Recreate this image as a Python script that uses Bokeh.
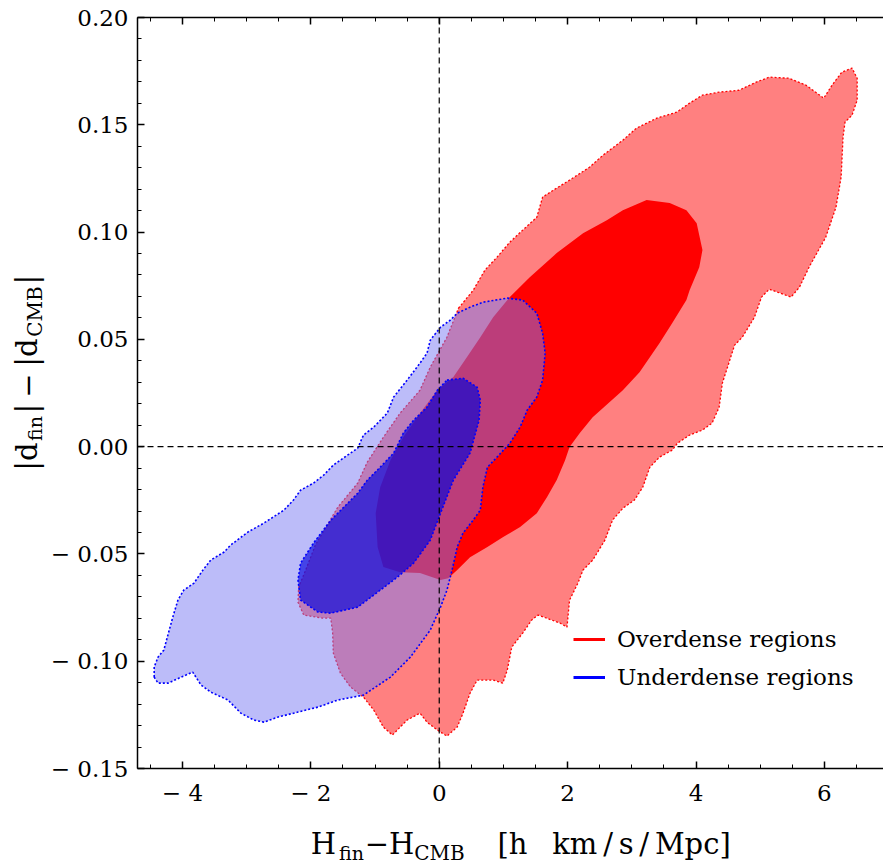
from math import pi
from bokeh.plotting import figure
from bokeh.layouts import column, row
from bokeh.models import (Range1d, FixedTicker, LinearAxis, Span, Label, Legend,
                          LegendItem, CustomJSTickFormatter)
from bokeh.embed import file_html
from bokeh.resources import INLINE

# ---------------- data ----------------
over_outer_x = [0.30, 0.53, 0.71, 0.90, 1.10, 1.30, 1.52, 1.61, 1.83, 2.03, 2.34, 2.55, 2.86, 3.07,
                3.39, 3.70, 3.90, 4.10, 4.36, 4.67, 4.94, 5.14, 5.45, 5.71, 5.99, 6.12, 6.27, 6.43,
                6.51, 6.51, 6.43, 6.32, 6.29, 6.26, 6.18, 6.02, 5.76, 5.61, 5.48, 5.14, 5.02, 4.91,
                4.72, 4.60, 4.49, 4.41, 4.36, 4.25, 4.10, 3.90, 3.71, 3.63, 3.43, 3.28, 3.17, 3.04,
                2.86, 2.70, 2.58, 2.39, 2.24, 2.16, 2.03, 1.99, 1.88, 1.54, 1.44, 1.30, 1.13, 1.06,
                0.99, 0.84, 0.59, 0.48, 0.37, 0.28, 0.12, -0.03, -0.19, -0.30, -0.50, -0.73, -0.87,
                -1.02, -1.18, -1.38, -1.54, -1.65, -1.66, -1.69, -1.82, -2.11, -2.20, -2.19, -2.08,
                -1.93, -1.58, -1.27, -1.12, -0.87, -0.61, -0.30, -0.14, 0.12]
over_outer_y = [0.0645, 0.0729, 0.0822, 0.0883, 0.0953, 0.1009, 0.1069, 0.1163, 0.1205, 0.1242,
                0.1302, 0.1358, 0.1428, 0.1484, 0.1531, 0.1559, 0.1601, 0.1638, 0.1652, 0.1661,
                0.1699, 0.1722, 0.1717, 0.1685, 0.1624, 0.1685, 0.1745, 0.1764, 0.1717, 0.1615,
                0.1545, 0.1512, 0.1442, 0.1256, 0.1116, 0.0976, 0.0836, 0.0743, 0.0697, 0.0734,
                0.0697, 0.0603, 0.0510, 0.0473, 0.0370, 0.0296, 0.0184, 0.0110, 0.0077, 0.0054,
                0.0016, -0.0016, -0.0049, -0.0096, -0.0189, -0.0249, -0.0287, -0.0342, -0.0436,
                -0.0529, -0.0575, -0.0636, -0.0715, -0.0841, -0.0822, -0.0785, -0.0808, -0.0869,
                -0.0934, -0.1041, -0.1102, -0.1088, -0.1088, -0.1149, -0.1242, -0.1307, -0.1349,
                -0.1321, -0.1284, -0.1242, -0.1274, -0.1344, -0.1307, -0.1228, -0.1167, -0.1121,
                -0.1055, -0.0962, -0.0869, -0.0799, -0.0799, -0.0785, -0.0725, -0.0655, -0.0575,
                -0.0459, -0.0282, -0.0170, -0.0072, 0.0044, 0.0156, 0.0263, 0.0370, 0.0510]

over_inner_x = [3.23, 3.59, 3.85, 4.01, 4.10, 4.05, 3.90, 3.85, 3.63, 3.43, 3.12, 2.86, 2.39, 2.19,
                2.03, 1.96, 1.83, 1.68, 1.52, 1.26, 0.99, 0.75, 0.48, 0.28, 0.14, 0.02, -0.30,
                -0.61, -0.87, -0.96, -0.99, -0.92, -0.76, -0.56, -0.30, -0.03, 0.22, 0.43, 0.64,
                0.84, 1.10, 1.41, 1.83, 2.24, 2.61, 2.86]
over_inner_y = [0.1149, 0.1135, 0.1102, 0.1041, 0.0916, 0.0836, 0.0729, 0.0683, 0.0576, 0.0482,
                0.0347, 0.0263, 0.0137, 0.0063, -0.0002, -0.0063, -0.0156, -0.0235, -0.0310,
                -0.0375, -0.0422, -0.0468, -0.0515, -0.0575, -0.0613, -0.0622, -0.0589, -0.0585,
                -0.0561, -0.0468, -0.0310, -0.0189, -0.0063, 0.0044, 0.0156, 0.0263, 0.0324,
                0.0417, 0.0510, 0.0603, 0.0697, 0.0790, 0.0902, 0.0995, 0.1055, 0.1102]

under_outer_x = [-4.44, -4.44, -4.38, -4.29, -4.15, -4.07, -3.98, -3.82, -3.68, -3.56, -3.35, -3.25,
                 -2.98, -2.73, -2.42, -2.27, -2.16, -1.96, -1.80, -1.65, -1.43, -1.27, -1.18, -1.02,
                 -0.81, -0.71, -0.50, -0.30, -0.19, -0.14, 0.02, 0.17, 0.28, 0.48, 0.68, 1.06, 1.30,
                 1.52, 1.61, 1.65, 1.61, 1.52, 1.37, 1.26, 1.10, 0.90, 0.75, 0.68, 0.64, 0.53, 0.37,
                 0.28, 0.20, 0.12, 0.02, -0.14, -0.45, -0.76, -1.18, -1.58, -1.89, -2.20, -2.52,
                 -2.73, -2.89, -3.09, -3.29, -3.56, -3.71, -3.84, -4.02, -4.22, -4.38]
under_outer_y = [-0.1074, -0.1027, -0.0981, -0.0948, -0.0794, -0.0715, -0.0669, -0.0636, -0.0575,
                 -0.0529, -0.0491, -0.0459, -0.0398, -0.0356, -0.0296, -0.0249, -0.0203, -0.0170,
                 -0.0133, -0.0086, -0.0040, -0.0007, 0.0054, 0.0091, 0.0156, 0.0231, 0.0310,
                 0.0389, 0.0436, 0.0496, 0.0557, 0.0589, 0.0622, 0.0650, 0.0673, 0.0692, 0.0683,
                 0.0622, 0.0529, 0.0436, 0.0310, 0.0231, 0.0170, 0.0091, 0.0016, -0.0049, -0.0096,
                 -0.0189, -0.0296, -0.0342, -0.0403, -0.0468, -0.0575, -0.0669, -0.0748, -0.0855,
                 -0.0981, -0.1074, -0.1158, -0.1181, -0.1214, -0.1237, -0.1261, -0.1284, -0.1274,
                 -0.1242, -0.1181, -0.1144, -0.1111, -0.1051, -0.1074, -0.1102, -0.1102]

under_inner_x = [0.12, 0.37, 0.59, 0.64, 0.62, 0.48, 0.22, 0.02, -0.14, -0.40, -0.65, -0.92, -1.27,
                 -1.69, -1.89, -2.16, -2.20, -2.16, -1.96, -1.69, -1.27, -1.12, -0.92, -0.71, -0.56,
                 -0.40, -0.19, -0.03]
under_inner_y = [0.0310, 0.0319, 0.0277, 0.0217, 0.0123, -0.0030, -0.0156, -0.0310, -0.0436,
                 -0.0543, -0.0608, -0.0669, -0.0748, -0.0776, -0.0771, -0.0715, -0.0622, -0.0543,
                 -0.0450, -0.0343, -0.0217, -0.0156, -0.0096, -0.0030, 0.0063, 0.0123, 0.0184,
                 0.0263]

x_major = [-4, -2, 0, 2, 4, 6]
x_labels = ["\u2212 4", "\u2212 2", "0", "2", "4", "6"]
x_minor = [-4.5, -4.0, -3.5, -3.0, -2.5, -2.0, -1.5, -1.0, -0.5, 0.0, 0.5, 1.0, 1.5, 2.0, 2.5,
           3.0, 3.5, 4.0, 4.5, 5.0, 5.5, 6.0, 6.5]
y_major = [-0.15, -0.10, -0.05, 0.0, 0.05, 0.10, 0.15, 0.20]
y_labels = ["\u2212 0.15", "\u2212 0.10", "\u2212 0.05", "0.00", "0.05", "0.10", "0.15", "0.20"]
y_minor = [round(-0.15 + 0.01 * i, 2) for i in range(36)]

legend_labels = ["Overdense regions", "Underdense regions"]
nan = float("nan")

SERIF = "DejaVu Serif"
YSTRIP_W = 46

# ---------------- main plot ----------------
p = figure(width=883 - YSTRIP_W, height=810, x_range=Range1d(-4.70, 6.92),
           y_range=Range1d(-0.15, 0.20), output_backend="svg", toolbar_location=None,
           min_border_left=137 - YSTRIP_W, min_border_right=0, min_border_top=17,
           min_border_bottom=42)
p.outline_line_color = None
p.xgrid.visible = False
p.ygrid.visible = False
p.background_fill_color = "white"
p.border_fill_color = "white"

BLUE_OUT = "#7A7AF4"
BLUE_IN = "#0000DC"

p.patch(over_outer_x, over_outer_y, fill_color="#FF8080", fill_alpha=1.0,
        line_color="#FF0000", line_dash="2 2", line_width=1.3)
p.patch(over_inner_x, over_inner_y, fill_color="#FF0000", fill_alpha=1.0, line_color=None)
p.patch(under_outer_x, under_outer_y, fill_color=BLUE_OUT, fill_alpha=0.5,
        line_color="#0000FF", line_dash="2 2", line_width=1.6)
p.patch(under_inner_x, under_inner_y, fill_color=BLUE_IN, fill_alpha=0.64,
        line_color="#0000FF", line_dash="2 2", line_width=1.6)

p.add_layout(Span(location=0, dimension="height", line_color="black", line_dash="6 4", line_width=1.2))
p.add_layout(Span(location=0, dimension="width", line_color="black", line_dash="6 4", line_width=1.2))

fmt_code = "const i = vals.findIndex(v => Math.abs(v - tick) < 1e-9); return i >= 0 ? labs[i] : '';"


def style_axis(ax, show_labels=True):
    ax.axis_line_width = 1.5
    ax.axis_line_color = "black"
    ax.major_tick_in = 7
    ax.major_tick_out = 0
    ax.minor_tick_in = 4
    ax.minor_tick_out = 0
    ax.major_tick_line_width = 1.5
    ax.minor_tick_line_width = 1.0
    ax.major_tick_line_color = "black"
    ax.minor_tick_line_color = "black"
    ax.major_label_text_font = SERIF
    ax.major_label_text_color = "black"
    if show_labels:
        ax.major_label_text_font_size = "23px"
    else:
        ax.major_label_text_font_size = "0px"
        ax.major_label_standoff = 0


xb = p.xaxis[0]
xb.ticker = FixedTicker(ticks=x_major, minor_ticks=x_minor)
xb.formatter = CustomJSTickFormatter(args=dict(vals=x_major, labs=x_labels), code=fmt_code)
style_axis(xb)
xb.major_label_standoff = 11

yl = p.yaxis[0]
yl.ticker = FixedTicker(ticks=y_major, minor_ticks=y_minor)
yl.formatter = CustomJSTickFormatter(args=dict(vals=y_major, labs=y_labels), code=fmt_code)
style_axis(yl)
yl.major_label_standoff = 9

xt = LinearAxis(ticker=FixedTicker(ticks=x_major, minor_ticks=x_minor),
                formatter=CustomJSTickFormatter(code="return '';"))
style_axis(xt, show_labels=False)
p.add_layout(xt, "above")

r_over = p.line(x=[nan], y=[nan], line_color="#FF0000", line_width=3)
r_under = p.line(x=[nan], y=[nan], line_color="#0000FF", line_width=3)
legend = Legend(items=[LegendItem(label=legend_labels[0], renderers=[r_over]),
                       LegendItem(label=legend_labels[1], renderers=[r_under])],
                location=(436, 78), glyph_width=32, glyph_height=22, label_height=22,
                label_standoff=12, spacing=12, padding=0, margin=0,
                border_line_color=None, background_fill_alpha=0.0,
                label_text_font=SERIF, label_text_font_size="23px", label_text_color="black")
p.add_layout(legend)


# ---------------- axis titles (separate strips, for subscripts) ----------------
def strip(w, h):
    f = figure(width=w, height=h, x_range=Range1d(0, w), y_range=Range1d(0, h),
               output_backend="svg", toolbar_location=None, min_border=0,
               x_axis_location=None, y_axis_location=None)
    f.outline_line_color = None
    f.xgrid.visible = False
    f.ygrid.visible = False
    f.background_fill_color = "white"
    f.border_fill_color = "white"
    return f


def piece(f, text, x, y, size, angle=0.0):
    # centred anchor: independent of rotation pivot
    f.add_layout(Label(x=x, y=y, x_units="screen", y_units="screen", text=text,
                       text_font=SERIF, text_font_size=size, text_color="black",
                       text_align="center", text_baseline="middle", angle=angle))


yfig = strip(YSTRIP_W, 810)
a = pi / 2
piece(yfig, "|d", 26, 312, "29px", a)
piece(yfig, "fin", 34, 340, "19px", a)
piece(yfig, "|", 26, 360, "29px", a)
piece(yfig, "\u2212", 26, 383, "29px", a)
piece(yfig, "|d", 26, 416, "29px", a)
piece(yfig, "CMB", 34, 457, "20px", a)
piece(yfig, "|", 26, 489, "29px", a)

xfig = strip(883, 55)
piece(xfig, "H", 323, 22, "29px")
piece(xfig, "fin", 351, 13, "19px")
piece(xfig, "\u2212H", 389, 22, "29px")
piece(xfig, "CMB", 439, 13, "20px")
piece(xfig, "[h", 512, 22, "29px")
piece(xfig, "km\u2009/\u2009s\u2009/\u2009Mpc]", 641, 22, "29px")

page = column(row(yfig, p, spacing=0), xfig, spacing=0)

open("out.html", "w").write(file_html(page, INLINE))
